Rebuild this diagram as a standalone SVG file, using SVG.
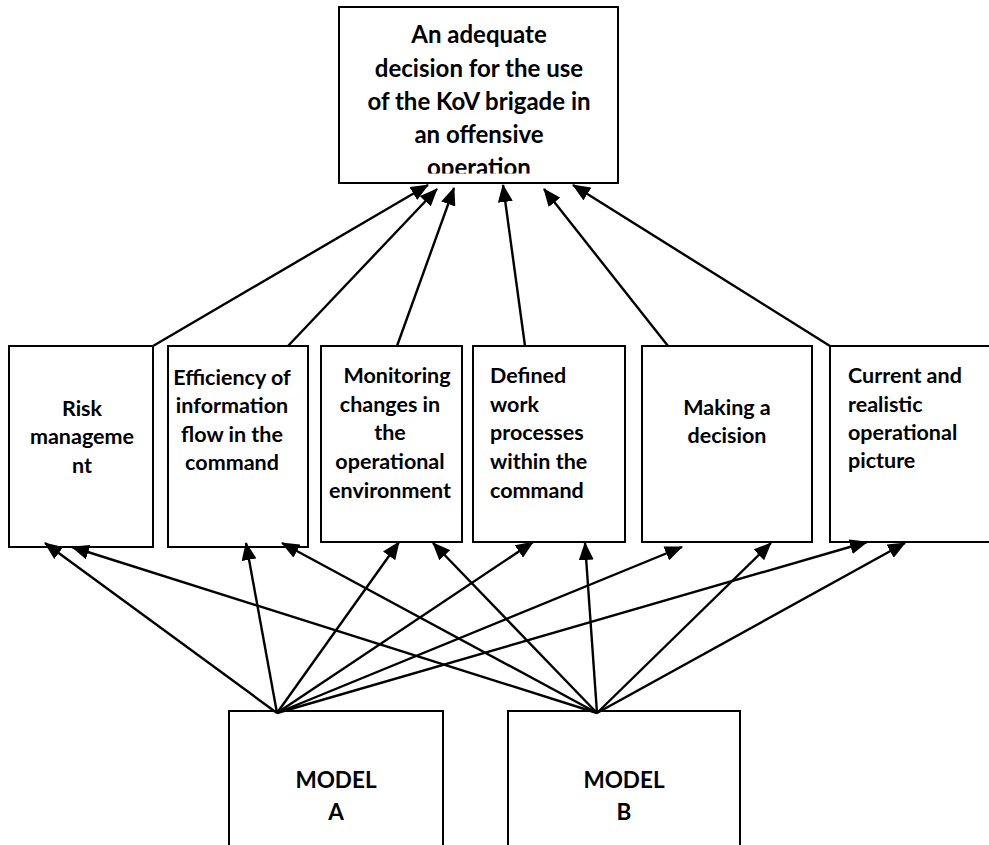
<svg xmlns="http://www.w3.org/2000/svg" width="989" height="845" viewBox="0 0 989 845">
  <style>
    .box { fill: #fff; stroke: #000; stroke-width: 2; }
    .lbl { font-family: Lato, "Liberation Sans", sans-serif; font-weight: bold; fill: #000; }
    .top { font-size: 24px; text-anchor: middle; }
    .mid { font-size: 21.5px; }
    .c { text-anchor: middle; }
    .mdl { font-size: 22.5px; text-anchor: middle; }
    .conn line { stroke: #000; stroke-width: 2.4; marker-end: url(#arrow); }
  </style>
  <defs>
    <marker id="arrow" markerUnits="userSpaceOnUse" markerWidth="18" markerHeight="15" viewBox="0 0 18 15" refX="17" refY="7.5" orient="auto">
      <path d="M0,0 L18,7.5 L0,15 z" fill="#000"/>
    </marker>
    <clipPath id="topClip">
      <rect x="339" y="7" width="279" height="166.5"/>
    </clipPath>
  </defs>
  <rect width="989" height="845" fill="#fff"/>

  <!-- goal -->
  <g id="goal">
    <rect class="box" x="339" y="7" width="279" height="176"/>
    <g clip-path="url(#topClip)">
      <text class="lbl top" x="479" y="43">An adequate</text>
      <text class="lbl top" x="479" y="77">decision for the use</text>
      <text class="lbl top" x="479" y="110">of the KoV brigade in</text>
      <text class="lbl top" x="479" y="143">an offensive</text>
      <text class="lbl top" x="479" y="176">operation</text>
    </g>
  </g>

  <!-- factors -->
  <g id="risk">
    <rect class="box" x="9" y="346" width="144" height="201"/>
    <text class="lbl mid c" x="82" y="416">Risk</text>
    <text class="lbl mid c" x="82" y="444">manageme</text>
    <text class="lbl mid c" x="82" y="473">nt</text>
  </g>
  <g id="info-flow">
    <rect class="box" x="168" y="346" width="140" height="201"/>
    <text class="lbl mid c" x="232" y="385">Efficiency of</text>
    <text class="lbl mid c" x="232" y="413">information</text>
    <text class="lbl mid c" x="232" y="442">flow in the</text>
    <text class="lbl mid c" x="232" y="470">command</text>
  </g>
  <g id="monitoring">
    <rect class="box" x="321" y="346" width="141" height="196"/>
    <text class="lbl mid c" x="397" y="383">Monitoring</text>
    <text class="lbl mid c" x="390" y="412">changes in</text>
    <text class="lbl mid c" x="390" y="440">the</text>
    <text class="lbl mid c" x="390" y="469">operational</text>
    <text class="lbl mid c" x="390" y="498">environment</text>
  </g>
  <g id="work-processes">
    <rect class="box" x="473" y="346" width="152" height="196"/>
    <text class="lbl mid" x="490" y="383">Defined</text>
    <text class="lbl mid" x="490" y="412">work</text>
    <text class="lbl mid" x="490" y="440">processes</text>
    <text class="lbl mid" x="490" y="469">within the</text>
    <text class="lbl mid" x="490" y="498">command</text>
  </g>
  <g id="decision">
    <rect class="box" x="642" y="346" width="170" height="196"/>
    <text class="lbl mid c" x="727" y="415">Making a</text>
    <text class="lbl mid c" x="727" y="443">decision</text>
  </g>
  <g id="op-picture">
    <rect class="box" x="830" y="346" width="170" height="196"/>
    <text class="lbl mid" x="848" y="383">Current and</text>
    <text class="lbl mid" x="848" y="412">realistic</text>
    <text class="lbl mid" x="848" y="440">operational</text>
    <text class="lbl mid" x="848" y="468">picture</text>
  </g>

  <!-- models -->
  <g id="model-a">
    <rect class="box" x="229" y="711" width="214" height="145"/>
    <text class="lbl mdl" x="336" y="788">MODEL</text>
    <text class="lbl mdl" x="336" y="820">A</text>
  </g>
  <g id="model-b">
    <rect class="box" x="508" y="711" width="232" height="145"/>
    <text class="lbl mdl" x="624" y="788">MODEL</text>
    <text class="lbl mdl" x="624" y="820">B</text>
  </g>

  <!-- connectors -->
  <g id="connectors" class="conn">
    <line x1="153" y1="346" x2="428" y2="185"/>
    <line x1="288" y1="346" x2="437" y2="189"/>
    <line x1="397" y1="346" x2="454" y2="188"/>
    <line x1="525" y1="346" x2="503" y2="185"/>
    <line x1="668" y1="346" x2="544" y2="189"/>
    <line x1="830" y1="346" x2="573" y2="185"/>

    <line x1="277" y1="713" x2="45" y2="543"/>
    <line x1="277" y1="713" x2="246" y2="543"/>
    <line x1="277" y1="713" x2="399" y2="542"/>
    <line x1="277" y1="713" x2="533" y2="542"/>
    <line x1="277" y1="713" x2="682" y2="547"/>
    <line x1="277" y1="713" x2="867" y2="542"/>

    <line x1="597" y1="713" x2="72" y2="547"/>
    <line x1="597" y1="713" x2="282" y2="543"/>
    <line x1="597" y1="713" x2="433" y2="543"/>
    <line x1="597" y1="713" x2="585" y2="543"/>
    <line x1="597" y1="713" x2="771" y2="543"/>
    <line x1="597" y1="713" x2="905" y2="543"/>
  </g>
</svg>
